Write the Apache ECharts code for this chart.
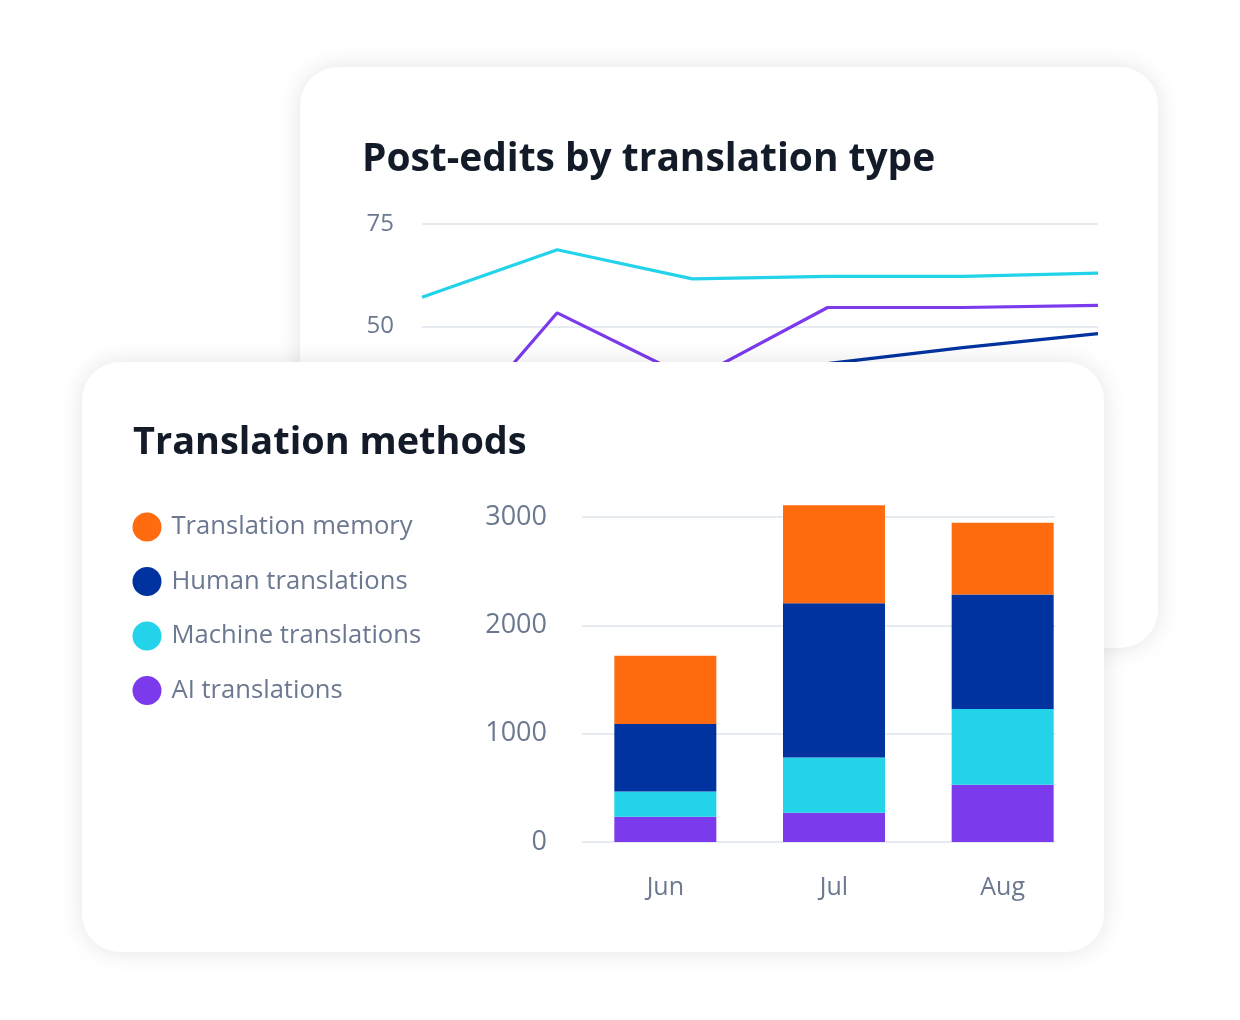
<!DOCTYPE html>
<html><head><meta charset="utf-8">
<script src="https://cdn.jsdelivr.net/npm/echarts@6/dist/echarts.min.js"></script>
<style>
html,body{margin:0;padding:0;background:#fff;width:1240px;height:1020px;overflow:hidden;}
.card{position:absolute;background:#fff;border-radius:38px;box-shadow:0 0 24px rgba(0,0,0,0.11);overflow:hidden;}
#back{left:300px;top:67px;width:858px;height:581px;}
#front{left:82px;top:362px;width:1022px;height:590px;}
.chart{width:100%;height:100%;}
</style></head>
<body>
<div class="card" id="back"><div class="chart" id="c1"></div></div>
<div class="card" id="front"><div class="chart" id="c2"></div></div>
<script>
// Back chart: Post-edits by translation type
const lineCategories = ['Mar', 'Apr', 'May', 'Jun', 'Jul', 'Aug'];
const machinePostEdits = [57.1, 68.7, 61.6, 62.2, 62.2, 63.0];
const aiPostEdits = [15, 53.3, 37, 54.6, 54.6, 55.1];
const humanPostEdits = [30, 36, 34, 40.9, 44.8, 48.2];

// Front chart: Translation methods
const months = ['Jun', 'Jul', 'Aug'];
const tmValues = [629, 903, 663];
const humanValues = [624, 1425, 1057];
const machineValues = [233, 510, 700];
const aiValues = [233, 270, 528];
const methodNames = ['Translation memory', 'Human translations', 'Machine translations', 'AI translations'];

const FONT = '"Open Sans"';
const LABEL = '#6b7890';
const GRIDC = '#e6eaf1';
const C_ORANGE = '#ff6b0f', C_NAVY = '#0033a0', C_CYAN = '#22d3ea', C_PURPLE = '#7c3aed';

// size text so that it spans a given width
const mctx = document.createElement('canvas').getContext('2d');
function fit(text, weight, width) {
  mctx.font = weight + ' 100px ' + FONT;
  return Math.round(100 * width / mctx.measureText(text).width * 10) / 10;
}
const backTitleSize = fit('Post-edits by translation type', 700, 574);
const frontTitleSize = fit('Translation methods', 700, 394);
const legendSize = fit('Machine translations', 400, 250);

const c1 = echarts.init(document.getElementById('c1'), null, {renderer: 'canvas'});
c1.setOption({
  animation: false,
  title: {text: 'Post-edits by translation type', left: 62, top: 73, padding: 0,
    textStyle: {fontFamily: FONT, fontWeight: 700, fontSize: backTitleSize, color: '#131b28'}},
  grid: {left: 122, top: 157, width: 676, height: 307},
  xAxis: {type: 'category', data: lineCategories, boundaryGap: false,
    axisLine: {show: false}, axisTick: {show: false}, axisLabel: {show: false}},
  yAxis: {type: 'value', min: 0, max: 75, interval: 25,
    axisLine: {show: false}, axisTick: {show: false},
    axisLabel: {fontFamily: FONT, fontSize: 24, color: LABEL, margin: 28, padding: [3, 0, 0, 0]},
    splitLine: {lineStyle: {color: GRIDC, width: 2}}},
  series: [
    {name: 'Machine translations', type: 'line', data: machinePostEdits, symbol: 'none', lineStyle: {color: C_CYAN, width: 3.2}},
    {name: 'AI translations', type: 'line', data: aiPostEdits, symbol: 'none', lineStyle: {color: C_PURPLE, width: 3.2}},
    {name: 'Human translations', type: 'line', data: humanPostEdits, symbol: 'none', lineStyle: {color: C_NAVY, width: 3.2}}
  ]
});

const c2 = echarts.init(document.getElementById('c2'), null, {renderer: 'canvas'});
const barSeries = (name, data, color) => ({
  name, type: 'bar', stack: 'total', data, barWidth: 102, clip: false,
  xAxisIndex: 0, yAxisIndex: 0, itemStyle: {color}
});
c2.setOption({
  animation: false,
  title: {text: 'Translation methods', left: 51, top: 62, padding: 0,
    textStyle: {fontFamily: FONT, fontWeight: 700, fontSize: frontTitleSize, color: '#131b28'}},
  legend: {orient: 'vertical', left: 50.5, top: 150.5, padding: 0, icon: 'circle', itemWidth: 29, itemHeight: 29, itemGap: 25.5,
    data: methodNames,
    textStyle: {fontFamily: FONT, fontSize: legendSize, color: LABEL, padding: [0, 0, 0, 5]}},
  grid: [
    {left: 499, top: 155, width: 506, height: 325},
    {left: 500, top: 155, width: 473, height: 325}
  ],
  xAxis: [
    {type: 'category', data: months, gridIndex: 0, axisLine: {show: false}, axisTick: {show: false},
      axisLabel: {fontFamily: FONT, fontSize: 25, color: LABEL, margin: 33}},
    {type: 'value', gridIndex: 1, show: false, min: 0, max: 1}
  ],
  yAxis: [
    {type: 'value', gridIndex: 0, min: 0, max: 3000, interval: 1000, splitLine: {show: false},
      axisLine: {show: false}, axisTick: {show: false},
      axisLabel: {fontFamily: FONT, fontSize: 27, color: LABEL, margin: 34, formatter: v => String(v)}},
    {type: 'value', gridIndex: 1, min: 0, max: 3000, interval: 1000, axisLabel: {show: false},
      axisLine: {show: false}, axisTick: {show: false},
      splitLine: {lineStyle: {color: GRIDC, width: 2}}}
  ],
  series: [
    barSeries('AI translations', aiValues, C_PURPLE),
    barSeries('Machine translations', machineValues, C_CYAN),
    barSeries('Human translations', humanValues, C_NAVY),
    barSeries('Translation memory', tmValues, C_ORANGE)
  ]
});
</script>
</body></html>
